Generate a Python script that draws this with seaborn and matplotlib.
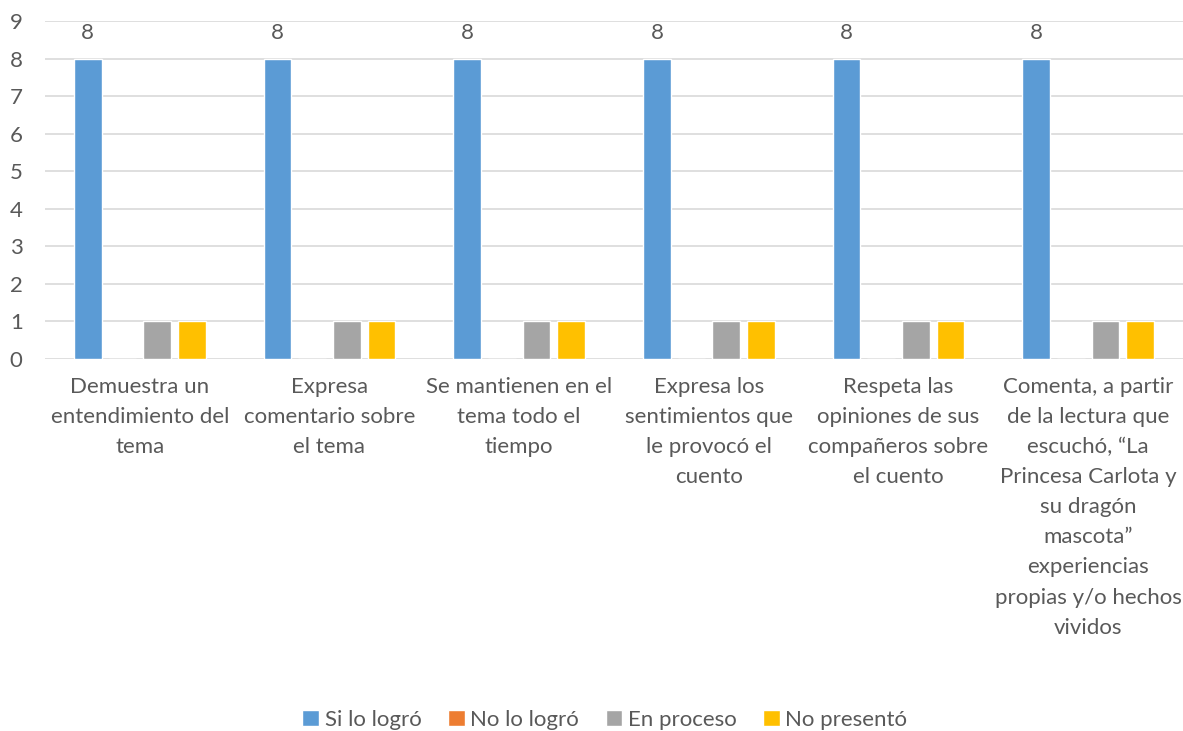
import pandas as pd
import seaborn as sns
import matplotlib.pyplot as plt

categorias = [
    "Demuestra un\nentendimiento del\ntema",
    "Expresa\ncomentario sobre\nel tema",
    "Se mantienen en el\ntema todo el\ntiempo",
    "Expresa los\nsentimientos que\nle provocó el\ncuento",
    "Respeta las\nopiniones de sus\ncompañeros sobre\nel cuento",
    "Comenta, a partir\nde la lectura que\nescuchó, “La\nPrincesa Carlota y\nsu dragón\nmascota”\nexperiencias\npropias y/o hechos\nvividos",
]
series = ["Si lo logró", "No lo logró", "En proceso", "No presentó"]
si_logro = [8, 8, 8, 8, 8, 8]
no_logro = [0, 0, 0, 0, 0, 0]
en_proceso = [1, 1, 1, 1, 1, 1]
no_presento = [1, 1, 1, 1, 1, 1]
colores = ["#5B9BD5", "#ED7D31", "#A5A5A5", "#FFC000"]

rows = []
for s, vals in zip(series, [si_logro, no_logro, en_proceso, no_presento]):
    for c, v in zip(categorias, vals):
        rows.append({"cat": c, "serie": s, "valor": v})
df = pd.DataFrame(rows)

sns.set_style("white")
plt.rcParams["font.family"] = ["Lato", "DejaVu Sans"]
txt = "#595959"
fs = 16

fig = plt.figure(figsize=(11.83, 7.31), dpi=100)
ax = fig.add_axes([0.038, 0.509, 0.962, 0.462])
sns.barplot(data=df, x="cat", y="valor", hue="serie", palette=colores,
            width=0.73, gap=0.2, ax=ax, saturation=1, legend=True)

ax.bar_label(ax.containers[0], padding=11, fontsize=fs, color=txt)

ax.set_ylim(0, 9)
ax.set_yticks(range(10))
ax.set_xlim(-0.5, 5.5)
ax.grid(axis="y", color="#D9D9D9", linewidth=1.2)
ax.set_axisbelow(True)
for sp in ax.spines.values():
    sp.set_visible(False)
ax.set_xlabel("")
ax.set_ylabel("")
ax.tick_params(axis="both", length=0, labelsize=fs, colors=txt)
ax.tick_params(axis="x", pad=13)
ax.tick_params(axis="y", pad=16)
for lab in ax.get_xticklabels():
    lab.set_linespacing(1.63)

ax.legend(loc="center", bbox_to_anchor=(0.492, -1.068), ncol=4, frameon=False,
          fontsize=fs, labelcolor=txt, handlelength=0.75, handleheight=0.75,
          handletextpad=0.25, columnspacing=1.2)

fig.savefig("out.png", dpi=100)
